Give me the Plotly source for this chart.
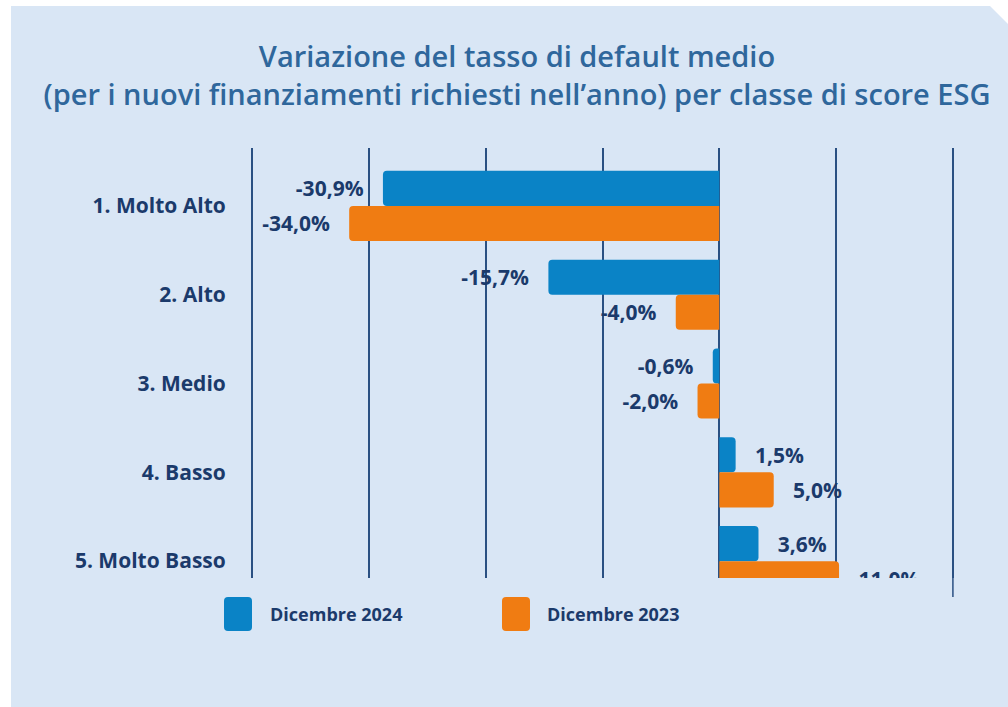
import plotly.graph_objects as go

categories = ["1. Molto Alto", "2. Alto", "3. Medio", "4. Basso", "5. Molto Basso"]
dic_2024 = [-30.9, -15.7, -0.6, 1.5, 3.6]
dic_2023 = [-34.0, -4.0, -2.0, 5.0, 11.0]
series_names = ["Dicembre 2024", "Dicembre 2023"]
grid_step = 10.73
grid_vals = [-4 * grid_step, -3 * grid_step, -2 * grid_step, -grid_step, 0, grid_step, 2 * grid_step]

W, H = 1008, 707
L, R, T, B = 251, 954, 148, 578

BLUE = "#0a83c6"
ORANGE = "#f07c12"
NAVY = "#1b3a6b"
GRID = "#2a5082"
PANEL = "#d9e6f5"
TITLE = "#2f679c"

NB = "\u00a0" * 3


def fmt(v):
    s = f"{v:.1f}".replace(".", ",") + "%"
    return (s + NB) if v < 0 else (NB + s)


fig = go.Figure()
for name, vals, col in [(series_names[0], dic_2024, BLUE), (series_names[1], dic_2023, ORANGE)]:
    fig.add_trace(go.Bar(
        name=name, y=categories, x=vals, orientation="h",
        marker=dict(color=col, cornerradius=4, line=dict(width=0)),
        text=[fmt(v) for v in vals], textposition="outside", constraintext="none",
        textfont=dict(family="Open Sans", size=21, color=NAVY, weight=700),
        cliponaxis=True, showlegend=False, hoverinfo="skip",
    ))


def px(xp):
    return (xp - L) / (R - L)


def py(yp):
    return (B - yp) / (B - T)


shapes = []
# panel background
shapes.append(dict(
    type="path", xref="paper", yref="paper", layer="below",
    path=f"M {px(11)} {py(6)} L {px(990)} {py(6)} L {px(1008)} {py(24)} L {px(1008)} {py(707)} L {px(11)} {py(707)} Z",
    fillcolor=PANEL, line=dict(width=0),
))
# right gridline extension
shapes.append(dict(type="line", xref="x", yref="paper", x0=grid_vals[-1], x1=grid_vals[-1],
                   y0=py(597), y1=0, line=dict(color=GRID, width=1.5), layer="below"))

annotations = []
# legend
leg = [(series_names[0], BLUE, 224, 268), (series_names[1], ORANGE, 502, 545)]
for name, col, sx, tx in leg:
    x0, x1, y0, y1 = px(sx), px(sx + 28), py(631), py(597)
    rx, ry = px(sx + 4) - px(sx), py(597) - py(601)
    shapes.append(dict(type="path", xref="paper", yref="paper",
                       path=(f"M {x0 + rx} {y0} L {x1 - rx} {y0} Q {x1} {y0} {x1} {y0 + ry} "
                             f"L {x1} {y1 - ry} Q {x1} {y1} {x1 - rx} {y1} L {x0 + rx} {y1} "
                             f"Q {x0} {y1} {x0} {y1 - ry} L {x0} {y0 + ry} Q {x0} {y0} {x0 + rx} {y0} Z"),
                       fillcolor=col, line=dict(width=0)))
    annotations.append(dict(xref="paper", yref="paper", x=px(tx), y=py(614),
                            xanchor="left", yanchor="middle", text=name, showarrow=False,
                            font=dict(family="Open Sans", size=18, color=NAVY, weight=700)))

fig.update_layout(
    width=W, height=H,
    margin=dict(l=L, r=W - R, t=T, b=H - B),
    paper_bgcolor="white", plot_bgcolor="rgba(0,0,0,0)",
    barmode="group", bargap=0.21, bargroupgap=0,
    title=dict(
        text="Variazione del tasso di default medio<br>(per i nuovi finanziamenti richiesti nell’anno) per classe di score ESG",
        x=517 / W, xref="container", xanchor="center", y=1 - 67 / H, yref="container", yanchor="middle",
        font=dict(family="Open Sans", size=29, color=TITLE, weight=600),
    ),
    xaxis=dict(range=[grid_vals[0] - 0.1, grid_vals[-1] + 0.1], tickvals=grid_vals, showticklabels=False,
               showgrid=True, gridcolor=GRID, gridwidth=1.5,
               zeroline=True, zerolinecolor=GRID, zerolinewidth=1.5, fixedrange=True),
    yaxis=dict(type="category", range=[4.19, -0.652], showgrid=False, zeroline=False,
               ticks="outside", ticklen=20, tickcolor="rgba(0,0,0,0)",
               tickfont=dict(family="Open Sans", size=21, color=NAVY, weight=700)),
    shapes=shapes, annotations=annotations,
)

fig.write_html("out.html", config={"displayModeBar": False},
               post_script="document.body.style.margin='0px';document.body.style.padding='0px';")
